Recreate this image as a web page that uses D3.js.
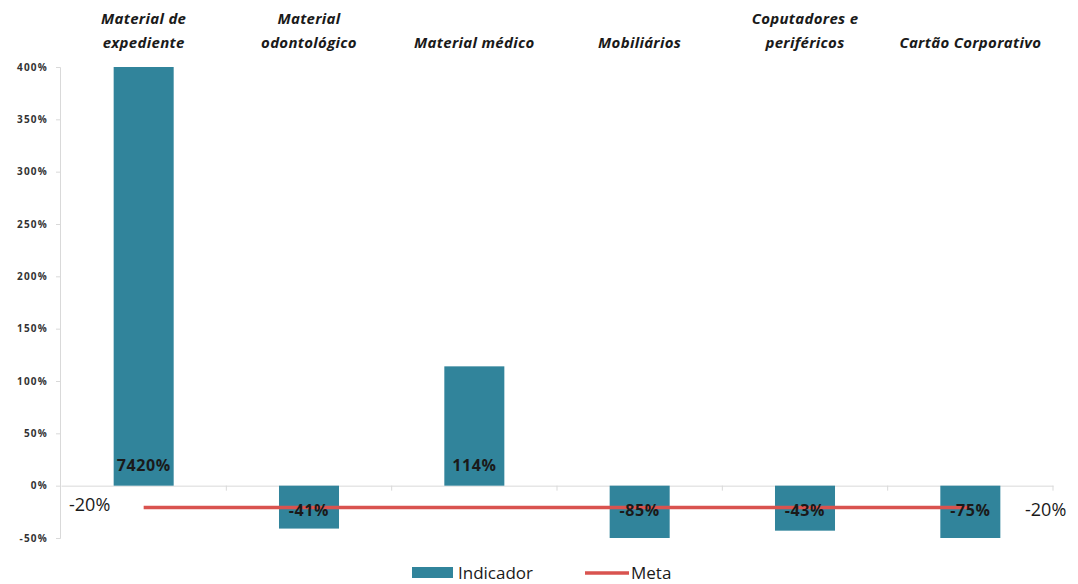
<!DOCTYPE html>
<html><head><meta charset="utf-8">
<script src="https://cdn.jsdelivr.net/npm/d3@7"></script>
<style>body{margin:0;background:#fff}svg{display:block}</style>
</head><body>
<script>
const categories = [["Material de","expediente"],["Material","odontológico"],["Material médico"],["Mobiliários"],["Coputadores e","periféricos"],["Cartão Corporativo"]];
const indicador = [74.20, -0.41, 1.14, -0.85, -0.43, -0.75];
const indicadorLabels = ["7420%","-41%","114%","-85%","-43%","-75%"];
const meta = [-0.20, -0.20, -0.20, -0.20, -0.20, -0.20];
const yTicks = [-0.5, 0, 0.5, 1, 1.5, 2, 2.5, 3, 3.5, 4];

const W = 1078, H = 584;
const pct = v => Math.round(v * 100) + "%";
const svg = d3.select("body").append("svg").attr("width", W).attr("height", H);
const x = d3.scaleBand().domain(d3.range(categories.length)).range([61, 1053]).paddingInner(0.637).paddingOuter(0.3185);
const xb = d3.scaleBand().domain(d3.range(categories.length)).range([61, 1053]);
const y = d3.scaleLinear().domain([-0.5, 4]).range([538, 67]);
const clamp = v => Math.max(-0.5, Math.min(4, v));
const font = "'Open Sans', sans-serif";

// y axis
const ya = svg.append("g").attr("transform", "translate(60,0)")
  .call(d3.axisLeft(y).tickValues(yTicks).tickFormat(pct).tickSize(4).tickPadding(8));
ya.select(".domain").attr("stroke", "#d9d9d9");
ya.selectAll(".tick line").attr("stroke", "#d9d9d9");
ya.selectAll("text").attr("font-family", font).attr("font-size", 10).attr("font-weight", "bold")
  .attr("letter-spacing", 1.2).attr("fill", "#333333");

// x axis at 0
const xa = svg.append("g").attr("transform", `translate(0,${y(0)})`)
  .call(d3.axisBottom(xb).tickValues([]).tickSizeOuter(0));
xa.select(".domain").attr("stroke", "#d9d9d9");
xa.selectAll(".sep").data(d3.range(1, categories.length + 1)).enter().append("line")
  .attr("x1", i => xb(0) + i * xb.step()).attr("x2", i => xb(0) + i * xb.step())
  .attr("y1", 0).attr("y2", 5).attr("stroke", "#d9d9d9");

// bars
svg.selectAll(".bar").data(indicador).enter().append("rect")
  .attr("x", (d, i) => x(i)).attr("width", x.bandwidth())
  .attr("y", d => y(Math.max(0, clamp(d))))
  .attr("height", d => Math.abs(y(clamp(d)) - y(0)))
  .attr("fill", "#31849b");

// meta line
const line = d3.line().x((d, i) => xb(i) + xb.bandwidth() / 2).y(d => y(d) + 1);
svg.append("path").datum(meta).attr("d", line).attr("fill", "none")
  .attr("stroke", "#d9534f").attr("stroke-width", 3.5);

// bar labels
svg.selectAll(".lbl").data(indicador).enter().append("text")
  .attr("x", (d, i) => x(i) + x.bandwidth() / 2)
  .attr("y", d => d >= 0 ? y(0) - 20 : y(-0.24))
  .attr("dy", "0.35em").attr("text-anchor", "middle")
  .attr("font-family", font).attr("font-size", 16).attr("font-weight", "bold").attr("letter-spacing", 0.6).attr("fill", "#1a1a1a")
  .text((d, i) => indicadorLabels[i]);

// meta end labels
svg.append("text").attr("x", 69).attr("y", y(meta[0]) - 2).attr("dy", "0.35em")
  .attr("font-family", font).attr("font-size", 18).attr("fill", "#1a1a1a").text(pct(meta[0]));
svg.append("text").attr("x", 1025).attr("y", y(meta[5]) + 3).attr("dy", "0.35em")
  .attr("font-family", font).attr("font-size", 18).attr("fill", "#1a1a1a").text(pct(meta[5]));

// category titles
categories.forEach((c, i) => {
  const cx = xb(i) + xb.bandwidth() / 2;
  const t = svg.append("text").attr("text-anchor", "middle")
    .attr("font-family", font).attr("font-size", 15).attr("font-weight", "bold").attr("font-style", "italic")
    .attr("letter-spacing", 0.3).attr("fill", "#1a1a1a");
  c.forEach((s, j) => {
    t.append("tspan").attr("x", cx).attr("y", 24 + (j + 2 - c.length) * 24).text(s);
  });
});

// legend
const lg = svg.append("g");
lg.append("rect").attr("x", 412).attr("y", 567).attr("width", 41).attr("height", 11).attr("fill", "#31849b");
lg.append("text").attr("x", 458).attr("y", 573).attr("dy", "0.35em").attr("font-family", font).attr("font-size", 17).attr("fill", "#1a1a1a").text("Indicador");
lg.append("line").attr("x1", 585).attr("x2", 629).attr("y1", 573).attr("y2", 573).attr("stroke", "#d9534f").attr("stroke-width", 3.5);
lg.append("text").attr("x", 631).attr("y", 573).attr("dy", "0.35em").attr("font-family", font).attr("font-size", 17).attr("fill", "#1a1a1a").text("Meta");
</script>
</body></html>
